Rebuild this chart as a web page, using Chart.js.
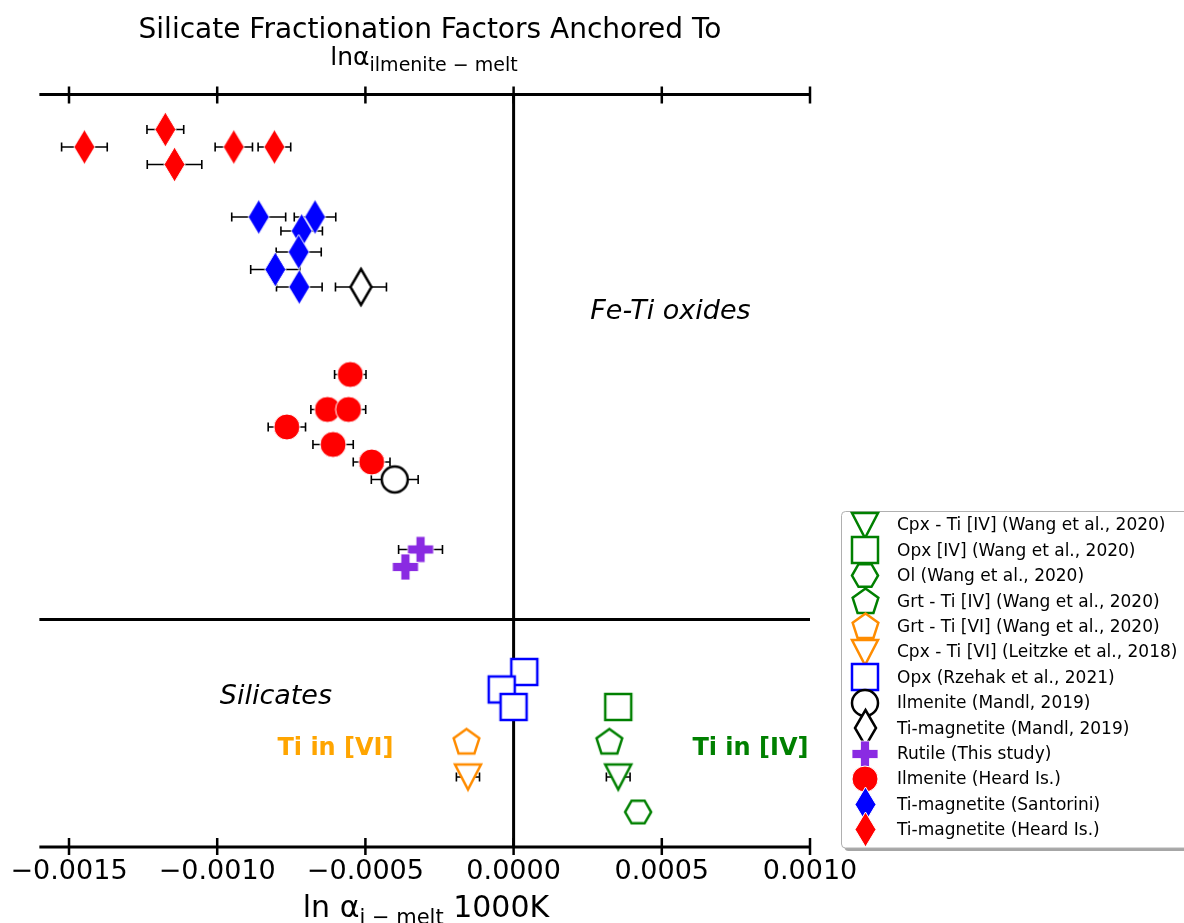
<!DOCTYPE html>
<html>
<head>
<meta charset="utf-8">
<title>Silicate Fractionation Factors</title>
<script src="https://cdn.jsdelivr.net/npm/chart.js@4.4.1/dist/chart.umd.min.js"></script>
<style>
  html, body { margin: 0; padding: 0; background: #fff; }
  #chart { display: block; }
</style>
</head>
<body>
<canvas id="chart" width="1184" height="923"></canvas>
<script>
// ===============================
// DATA
// ===============================
const xMin = -0.0016;
const xMax = 0.0010;
const yMin = 0;
const yMax = 43;
const xTicks = [-0.0015, -0.0010, -0.0005, 0.0, 0.0005, 0.0010];
const ySplit = 13;   // silicates / oxides boundary

// Silicates
const cpxIV_x = [0.000353];   const cpxIV_y = [4];  const cpxIV_err = [0.00004];
const opxIV_x = [0.000353];   const opxIV_y = [8];  const opxIV_err = [0];
const ol_x = [0.000420];      const ol_y = [2];     const ol_err = [0];
const grtIV_x = [0.000323];   const grtIV_y = [6];  const grtIV_err = [0];
const grtVI_x = [-0.000159];  const grtVI_y = [6];  const grtVI_err = [0];
const cpxVI_x = [-0.000154];  const cpxVI_y = [4];  const cpxVI_err = [0.000039];
const opxRz_x = [0.000036, -0.000040, 0.0];
const opxRz_y = [10, 9, 8];
const opxRz_err = [0, 0, 0];

// Fe-Ti oxides
const ilmMandl_x = [-0.000401];  const ilmMandl_y = [21];  const ilmMandl_err = [0.000079];
const mtMandl_x = [-0.000515];   const mtMandl_y = [32];   const mtMandl_err = [0.000086];
const rutile_x = [-0.000314, -0.000365];
const rutile_y = [17, 16];
const rutile_err = [0.000074, 0];
const ilmHeard_x = [-0.000551, -0.000628, -0.000557, -0.000765, -0.000609, -0.000479];
const ilmHeard_y = [27, 25, 25, 24, 23, 22];
const ilmHeard_err = [0.000053, 0.000056, 0.000058, 0.000063, 0.000068, 0.000062];
const mtSant_x = [-0.000860, -0.000670, -0.000715, -0.000725, -0.000804, -0.000723];
const mtSant_y = [36, 36, 35.2, 34, 33, 32];
const mtSant_err = [0.000091, 0.000070, 0.000070, 0.000076, 0.000083, 0.000077];
const mtHeard_x = [-0.001448, -0.001175, -0.001144, -0.000944, -0.000807];
const mtHeard_y = [40, 41, 39, 40, 40];
const mtHeard_err = [0.000077, 0.000062, 0.000092, 0.000063, 0.000055];

const FONT = "'DejaVu Sans', 'Liberation Sans', sans-serif";
const GREEN = "#008000";
const ORANGE = "#ff8c00";
const BLUE = "#0000ff";
const RED = "#ff0000";
const PURPLE = "#8a2be2";

// ===============================
// MARKERS
// ===============================
function marker(shape, w, h, fill, stroke, lw) {
  const c = document.createElement("canvas");
  const pad = Math.ceil(lw) + 2;
  const bw = w, bh = shape === "plus" ? w : h;
  c.width = Math.ceil(bw + 2 * pad);
  c.height = Math.ceil(bh + 2 * pad);
  const g = c.getContext("2d");
  g.translate(c.width / 2, c.height / 2);
  g.beginPath();
  if (shape === "circle") {
    g.arc(0, 0, w / 2, 0, Math.PI * 2);
  } else if (shape === "square") {
    g.rect(-w / 2, -h / 2, w, h);
  } else if (shape === "diamond") {
    g.moveTo(0, -h / 2); g.lineTo(w / 2, 0); g.lineTo(0, h / 2); g.lineTo(-w / 2, 0);
    g.closePath();
  } else if (shape === "triDown") {
    g.moveTo(-w / 2, -h / 2); g.lineTo(w / 2, -h / 2); g.lineTo(0, h / 2);
    g.closePath();
  } else if (shape === "pentagon") {
    const r = w / 2;
    for (let k = 0; k < 5; k++) {
      const a = -Math.PI / 2 + k * 2 * Math.PI / 5;
      const px = r * Math.cos(a), py = r * Math.sin(a) + h * 0.02;
      k === 0 ? g.moveTo(px, py) : g.lineTo(px, py);
    }
    g.closePath();
  } else if (shape === "hexagon") {
    const r = w / 2;
    for (let k = 0; k < 6; k++) {
      const a = k * Math.PI / 3;
      const px = r * Math.cos(a), py = r * Math.sin(a);
      k === 0 ? g.moveTo(px, py) : g.lineTo(px, py);
    }
    g.closePath();
  } else if (shape === "plus") {
    const a = w / 2, t = h / 2;   // h = arm thickness here
    g.moveTo(-t, -a); g.lineTo(t, -a); g.lineTo(t, -t); g.lineTo(a, -t);
    g.lineTo(a, t); g.lineTo(t, t); g.lineTo(t, a); g.lineTo(-t, a);
    g.lineTo(-t, t); g.lineTo(-a, t); g.lineTo(-a, -t); g.lineTo(-t, -t);
    g.closePath();
  }
  g.fillStyle = fill;
  g.fill();
  if (stroke) {
    g.lineWidth = lw;
    g.strokeStyle = stroke;
    g.lineJoin = "miter";
    g.stroke();
  }
  return c;
}

// ===============================
// SERIES
// ===============================
const series = [
  { label: "Cpx - Ti [IV] (Wang et al., 2020)", x: cpxIV_x, y: cpxIV_y, err: cpxIV_err,
    style: marker("triDown", 26, 25, "#fff", GREEN, 2.5) },
  { label: "Opx [IV] (Wang et al., 2020)", x: opxIV_x, y: opxIV_y, err: opxIV_err,
    style: marker("square", 26, 26, "#fff", GREEN, 2.5) },
  { label: "Ol (Wang et al., 2020)", x: ol_x, y: ol_y, err: ol_err,
    style: marker("hexagon", 26, 23, "#fff", GREEN, 2.5) },
  { label: "Grt - Ti [IV] (Wang et al., 2020)", x: grtIV_x, y: grtIV_y, err: grtIV_err,
    style: marker("pentagon", 27, 25, "#fff", GREEN, 2.5) },
  { label: "Grt - Ti [VI] (Wang et al., 2020)", x: grtVI_x, y: grtVI_y, err: grtVI_err,
    style: marker("pentagon", 27, 25, "#fff", ORANGE, 2.5) },
  { label: "Cpx - Ti [VI] (Leitzke et al., 2018)", x: cpxVI_x, y: cpxVI_y, err: cpxVI_err,
    style: marker("triDown", 26, 25, "#fff", ORANGE, 2.5) },
  { label: "Opx (Rzehak et al., 2021)", x: opxRz_x, y: opxRz_y, err: opxRz_err,
    style: marker("square", 26, 26, "#fff", BLUE, 2.5) },
  { label: "Ilmenite (Mandl, 2019)", x: ilmMandl_x, y: ilmMandl_y, err: ilmMandl_err,
    style: marker("circle", 26, 26, "#fff", "#000", 2.5) },
  { label: "Ti-magnetite (Mandl, 2019)", x: mtMandl_x, y: mtMandl_y, err: mtMandl_err,
    style: marker("diamond", 21, 36, "#fff", "#000", 2.5) },
  { label: "Rutile (This study)", x: rutile_x, y: rutile_y, err: rutile_err,
    style: marker("plus", 26, 9, PURPLE, "#fff", 0.8) },
  { label: "Ilmenite (Heard Is.)", x: ilmHeard_x, y: ilmHeard_y, err: ilmHeard_err,
    style: marker("circle", 26, 26, RED, "#fff", 1) },
  { label: "Ti-magnetite (Santorini)", x: mtSant_x, y: mtSant_y, err: mtSant_err,
    style: marker("diamond", 21, 35, BLUE, "#fff", 1) },
  { label: "Ti-magnetite (Heard Is.)", x: mtHeard_x, y: mtHeard_y, err: mtHeard_err,
    style: marker("diamond", 21, 35, RED, "#fff", 1) }
];

const datasets = series.map((s, i) => ({
  label: s.label,
  data: s.x.map((v, k) => ({ x: v, y: s.y[k], err: s.err[k] })),
  pointStyle: s.style,
  pointRadius: 12,
  pointHoverRadius: 12,
  order: series.length - i,   // later series on top, like matplotlib
  clip: false
}));

// ===============================
// HELPERS
// ===============================
function fmtTick(v) {
  const s = Math.abs(v).toFixed(4);
  return v < -1e-12 ? "\u2212" + s : s;
}

// draws runs of text (normal + subscript) centred on cx
function drawRuns(ctx, runs, cx, baseline) {
  let total = 0;
  runs.forEach(r => {
    ctx.font = (r.style || "") + " " + r.size + "px " + FONT;
    r.w = ctx.measureText(r.t).width;
    total += r.w;
  });
  let x = cx - total / 2;
  ctx.textAlign = "left";
  ctx.textBaseline = "alphabetic";
  runs.forEach(r => {
    ctx.font = (r.style || "") + " " + r.size + "px " + FONT;
    ctx.fillText(r.t, x, baseline + (r.dy || 0));
    x += r.w;
  });
}

// ===============================
// PLUGINS
// ===============================
const errorBars = {
  id: "errorBars",
  beforeDatasetDraw(chart, args) {
    const ds = chart.data.datasets[args.index];
    const xs = chart.scales.x, ys = chart.scales.y;
    const ctx = chart.ctx;
    ctx.save();
    ctx.strokeStyle = "#000";
    ctx.lineWidth = 1.6;
    ds.data.forEach(p => {
      if (!p.err) return;
      const y = ys.getPixelForValue(p.y);
      const x0 = xs.getPixelForValue(p.x - p.err);
      const x1 = xs.getPixelForValue(p.x + p.err);
      ctx.beginPath();
      ctx.moveTo(x0, y); ctx.lineTo(x1, y);
      ctx.moveTo(x0, y - 4.5); ctx.lineTo(x0, y + 4.5);
      ctx.moveTo(x1, y - 4.5); ctx.lineTo(x1, y + 4.5);
      ctx.stroke();
    });
    ctx.restore();
  }
};

const frame = {
  id: "frame",
  beforeDatasetsDraw(chart) {
    const { ctx, chartArea: a } = chart;
    const xs = chart.scales.x, ys = chart.scales.y;
    ctx.save();
    ctx.strokeStyle = "#000";
    ctx.lineWidth = 3;
    // top and bottom spines
    ctx.beginPath();
    ctx.moveTo(a.left, a.top); ctx.lineTo(a.right, a.top);
    ctx.moveTo(a.left, a.bottom); ctx.lineTo(a.right, a.bottom);
    // x = 0 line
    const x0 = xs.getPixelForValue(0);
    ctx.moveTo(x0, a.top); ctx.lineTo(x0, a.bottom);
    // boundary
    const yb = ys.getPixelForValue(ySplit);
    ctx.moveTo(a.left, yb); ctx.lineTo(a.right, yb);
    ctx.stroke();
    // in-out tick marks
    ctx.lineWidth = 2.5;
    ctx.beginPath();
    xTicks.forEach(v => {
      const px = xs.getPixelForValue(v);
      ctx.moveTo(px, a.top - 8); ctx.lineTo(px, a.top + 9);
      ctx.moveTo(px, a.bottom - 9); ctx.lineTo(px, a.bottom + 8);
    });
    ctx.stroke();
    ctx.restore();
  },
  afterDraw(chart) {
    const { ctx } = chart;
    const xs = chart.scales.x, ys = chart.scales.y;
    ctx.save();
    ctx.fillStyle = "#000";

    // title
    ctx.font = "28px " + FONT;
    ctx.textAlign = "center";
    ctx.textBaseline = "alphabetic";
    ctx.fillText("Silicate Fractionation Factors Anchored To", 430, 38);
    drawRuns(ctx, [
      { t: "ln\u03b1", size: 25 },
      { t: "ilmenite \u2212 melt", size: 19, dy: 6 }
    ], 424, 65);

    // x-axis label
    drawRuns(ctx, [
      { t: "ln \u03b1", size: 30 },
      { t: "i \u2212 melt", size: 21, dy: 7 },
      { t: " 1000K", size: 30 }
    ], 426, 917);

    // region annotations
    ctx.textAlign = "center";
    ctx.textBaseline = "middle";
    ctx.font = "oblique 27px " + FONT;
    ctx.fillText("Fe-Ti oxides", xs.getPixelForValue(0.000529), ys.getPixelForValue(30.56));
    ctx.fillText("Silicates", xs.getPixelForValue(-0.000802), ys.getPixelForValue(8.6));
    ctx.font = "bold 24px " + FONT;
    ctx.fillStyle = "#ffa500";
    ctx.fillText("Ti in [VI]", xs.getPixelForValue(-0.000601), ys.getPixelForValue(5.6));
    ctx.fillStyle = GREEN;
    ctx.fillText("Ti in [IV]", xs.getPixelForValue(0.000799), ys.getPixelForValue(5.6));

    // legend
    const lx = 841.5, ly = 511.5, lw = 360, lh = 336.5;
    ctx.fillStyle = "rgba(0,0,0,0.35)";
    ctx.beginPath();
    ctx.roundRect(lx + 3, ly + 3, lw, lh, 4);
    ctx.fill();
    ctx.fillStyle = "#fff";
    ctx.strokeStyle = "#b0b0b0";
    ctx.lineWidth = 1;
    ctx.beginPath();
    ctx.roundRect(lx, ly, lw, lh, 4);
    ctx.fill();
    ctx.stroke();

    ctx.font = "17px " + FONT;
    ctx.textAlign = "left";
    ctx.textBaseline = "middle";
    ctx.fillStyle = "#000";
    series.forEach((s, i) => {
      const cy = 525 + i * 25.4;
      ctx.drawImage(s.style, Math.round(865 - s.style.width / 2), Math.round(cy - s.style.height / 2));
      ctx.fillText(s.label, 897, cy + 1);
    });
    ctx.restore();
  }
};

// ===============================
// CHART
// ===============================
new Chart(document.getElementById("chart"), {
  type: "scatter",
  data: { datasets },
  options: {
    responsive: false,
    animation: false,
    devicePixelRatio: 1,
    layout: { padding: { left: 38, right: 374, top: 94.5, bottom: 36 } },
    plugins: {
      legend: { display: false },
      tooltip: { enabled: false },
      title: { display: false }
    },
    scales: {
      x: {
        type: "linear",
        min: xMin,
        max: xMax,
        position: "bottom",
        grid: { display: false, drawTicks: false },
        border: { display: false },
        ticks: {
          color: "#000",
          padding: 9,
          autoSkip: false,
          maxRotation: 0,
          font: { family: FONT, size: 27 },
          callback: v => fmtTick(v)
        },
        afterBuildTicks: s => { s.ticks = xTicks.map(v => ({ value: v })); },
        afterFit: s => { s.height = 40; }
      },
      y: { display: false, min: yMin, max: yMax }
    }
  },
  plugins: [errorBars, frame]
});
</script>
</body>
</html>
